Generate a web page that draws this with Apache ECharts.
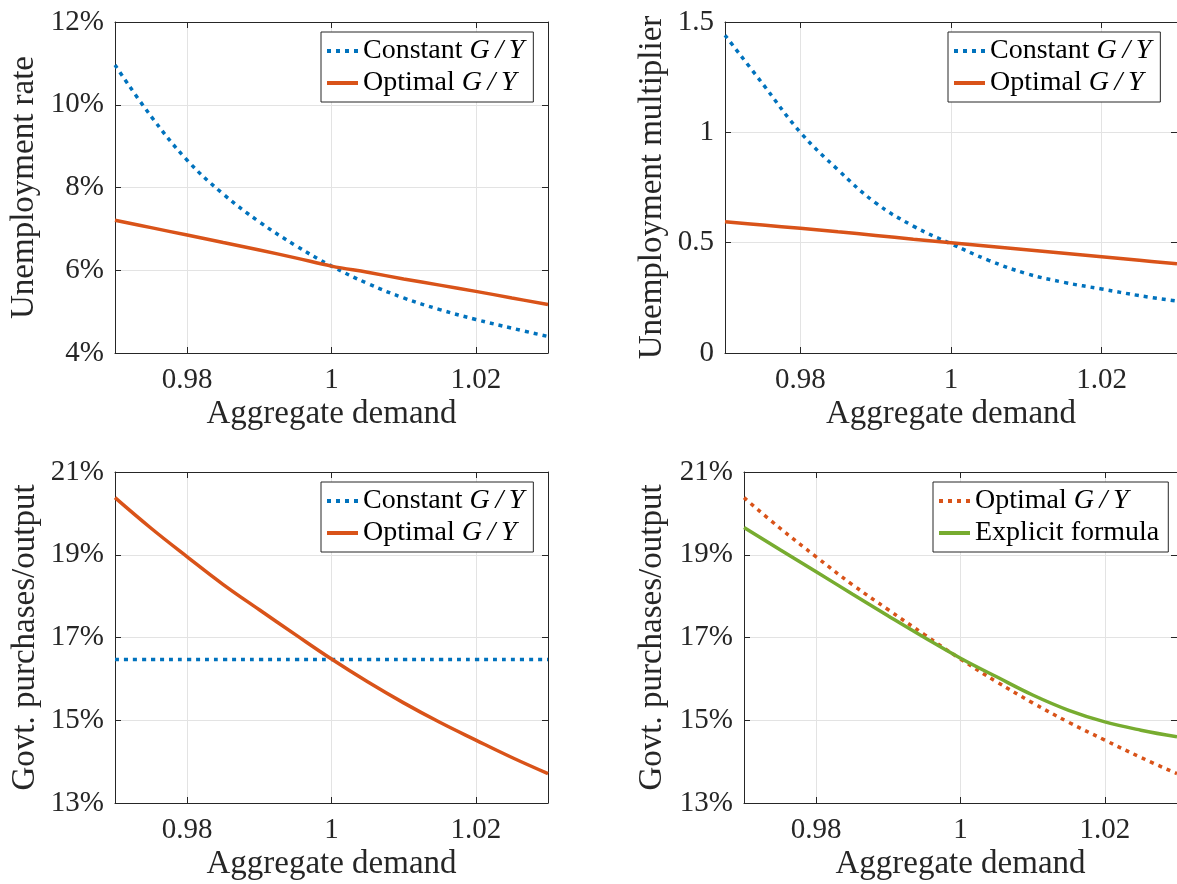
<!DOCTYPE html>
<html>
<head>
<meta charset="utf-8">
<script src="https://cdn.jsdelivr.net/npm/echarts@6/dist/echarts.min.js"></script>
<style>
  html,body{margin:0;padding:0;background:#fff;}
  #chart{width:1177px;height:884px;}
</style>
</head>
<body>
<div id="chart"></div>
<script>
// 横轴：总需求
var xs=[0.97,0.975,0.98,0.985,0.99,0.995,1.0,1.005,1.01,1.015,1.02,1.025,1.03];
var xTicks=[0.98,1,1.02];
// 失业率 (%)
var unempConst=[10.96,9.72,8.66,7.84,7.17,6.60,6.10,5.68,5.33,5.05,4.81,4.60,4.40];
var unempOpt=[7.21,7.03,6.85,6.67,6.49,6.30,6.10,5.95,5.79,5.64,5.49,5.33,5.17];
// 失业乘数
var multConst=[1.44,1.22,1.00,0.83,0.68,0.575,0.495,0.42,0.36,0.32,0.29,0.26,0.235];
var multOpt=[0.595,0.58,0.565,0.549,0.533,0.516,0.50,0.484,0.468,0.452,0.436,0.42,0.404];
// 政府购买/产出 (%)
var gyConst=[16.47,16.47,16.47,16.47,16.47,16.47,16.47,16.47,16.47,16.47,16.47,16.47,16.47];
var gyOpt=[20.38,19.64,18.95,18.28,17.67,17.07,16.48,15.93,15.42,14.95,14.52,14.10,13.71];
var gyFormula=[19.66,19.12,18.59,18.05,17.52,17.00,16.50,16.05,15.61,15.24,14.96,14.76,14.60];

var font='Liberation Serif';
var ink='#262626';
var blue='#0072BD', orange='#D95319', green='#77AC30';

var pair=function(ys){
  return xs.map(function(x,i){return [x,ys[i]];});
};

// 图例文字
var legendText={
  c1:'{r|Constant }{m|G\u2009/\u2009Y}', o1:'{r|Optimal }{m|G\u2009/\u2009Y}',
  c2:'{r|Constant }{m|G\u2009/\u2009Y}', o2:'{r|Optimal }{m|G\u2009/\u2009Y}',
  c3:'{r|Constant }{m|G\u2009/\u2009Y}', o3:'{r|Optimal }{m|G\u2009/\u2009Y}',
  o4:'{r|Optimal }{m|G\u2009/\u2009Y}', f4:'{r|Explicit formula}'
};

var grids=[
  {left:115,top:22,width:433,height:331},
  {left:725,top:22,width:454,height:331},
  {left:115,top:472,width:433,height:331},
  {left:744,top:472,width:435,height:331}
];

var xAx=function(i,pos){
  var main=pos==='bottom';
  return {
    type:'value',gridIndex:i,position:pos,min:0.97,max:1.03,
    name:main?'Aggregate demand':'',nameLocation:'middle',nameGap:45,
    nameTextStyle:{fontFamily:font,fontSize:33,color:ink},
    axisLine:{show:true,onZero:false,lineStyle:{color:ink,width:1}},
    axisTick:{show:true,inside:true,length:6,customValues:xTicks,lineStyle:{color:ink}},
    axisLabel:{show:main,customValues:xTicks,margin:13,fontFamily:font,fontSize:29,color:ink},
    splitLine:{show:main,customValues:xTicks,lineStyle:{color:'#e3e3e3'}}
  };
};

var yCfg=[
  {min:4,max:12,interval:2,pct:true,name:'Unemployment rate',gap:74},
  {min:0,max:1.5,interval:0.5,pct:false,name:'Unemployment multiplier',gap:56},
  {min:13,max:21,interval:2,pct:true,name:'Govt. purchases/output',gap:73},
  {min:13,max:21,interval:2,pct:true,name:'Govt. purchases/output',gap:75}
];

var yAx=function(i,pos){
  var main=pos==='left';
  var c=yCfg[i];
  return {
    type:'value',gridIndex:i,position:pos,min:c.min,max:c.max,interval:c.interval,
    name:main?c.name:'',nameLocation:'middle',nameGap:c.gap,
    nameTextStyle:{fontFamily:font,fontSize:33,color:ink},
    axisLine:{show:true,onZero:false,lineStyle:{color:ink,width:1}},
    axisTick:{show:true,inside:true,length:6,lineStyle:{color:ink}},
    axisLabel:{show:main,margin:11,fontFamily:font,fontSize:29,color:ink,
      formatter:function(v){return c.pct?(v+'%'):String(v);}},
    splitLine:{show:main,lineStyle:{color:'#e3e3e3'}}
  };
};

var line=function(name,gi,ys,color,dotted){
  return {
    name:name,type:'line',xAxisIndex:gi,yAxisIndex:gi,data:pair(ys),
    symbol:'none',smooth:0.4,animation:false,
    lineStyle:{color:color,width:3.5,type:dotted?[4,5]:'solid',cap:'butt'},
    itemStyle:{color:color}
  };
};

var legend=function(names,left,top){
  return {
    data:names,orient:'vertical',left:left,top:top,
    itemWidth:31,itemHeight:14,itemGap:4,
    padding:[5,9,5,4],
    backgroundColor:'#fff',borderColor:ink,borderWidth:1,borderRadius:0,
    selectedMode:false,
    itemStyle:{opacity:0},
    lineStyle:{width:4},
    formatter:function(n){return legendText[n];},
    textStyle:{
      rich:{
        r:{fontFamily:font,fontSize:28,color:'#000',lineHeight:28},
        m:{fontFamily:font,fontSize:28,fontStyle:'italic',color:'#000',lineHeight:28}
      }
    }
  };
};

var chart=echarts.init(document.getElementById('chart'));
chart.setOption({
  backgroundColor:'#fff',
  animation:false,
  grid:grids,
  xAxis:[xAx(0,'bottom'),xAx(1,'bottom'),xAx(2,'bottom'),xAx(3,'bottom'),
         xAx(0,'top'),xAx(1,'top'),xAx(2,'top'),xAx(3,'top')],
  yAxis:[yAx(0,'left'),yAx(1,'left'),yAx(2,'left'),yAx(3,'left'),
         yAx(0,'right'),yAx(1,'right'),yAx(2,'right'),yAx(3,'right')],
  legend:[
    legend(['c1','o1'],321,32),
    legend(['c2','o2'],948,32),
    legend(['c3','o3'],321,482),
    legend(['o4','f4'],933,482)
  ],
  series:[
    line('c1',0,unempConst,blue,true),
    line('o1',0,unempOpt,orange,false),
    line('c2',1,multConst,blue,true),
    line('o2',1,multOpt,orange,false),
    line('c3',2,gyConst,blue,true),
    line('o3',2,gyOpt,orange,false),
    line('o4',3,gyOpt,orange,true),
    line('f4',3,gyFormula,green,false)
  ]
});
</script>
</body>
</html>
